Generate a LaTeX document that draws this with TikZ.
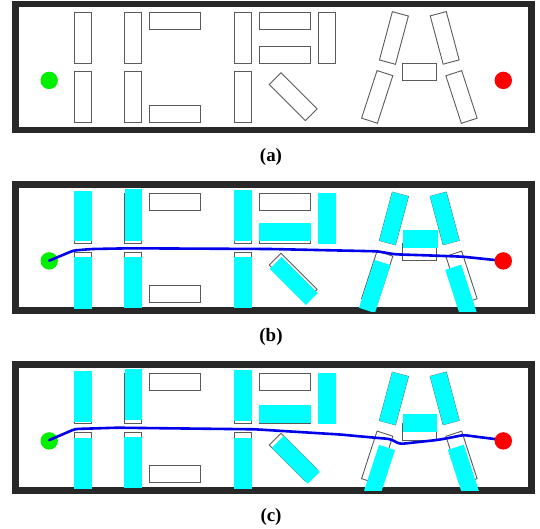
\documentclass[tikz,border=0pt]{standalone}
\usepackage{fontspec}
\setmainfont{Liberation Serif}
\definecolor{framegray}{RGB}{40,40,40}
\definecolor{outlinegray}{RGB}{90,90,90}
\definecolor{obscyan}{RGB}{0,255,255}
\definecolor{startgreen}{RGB}{0,240,0}
\definecolor{goalred}{RGB}{255,0,0}
\definecolor{pathblue}{RGB}{0,0,235}
\tikzset{
  framebox/.style={draw=framegray, line width=6.5bp},
  outlinebox/.style={draw=outlinegray, line width=0.9bp},
  cyanbox/.style={fill=obscyan},
  pathline/.style={draw=pathblue, line width=2.6bp, line join=round, line cap=round, rounded corners=3bp},
  startdot/.style={fill=startgreen},
  goaldot/.style={fill=goalred},
  caption/.style={font=\fontsize{19}{22}\selectfont\bfseries, inner sep=0pt}
}
% #1 style, #2 cx, #3 cy, #4 w, #5 h, #6 angle
\newcommand\obsbox[6]{%
  \path[#1, shift={(#2,#3)}, rotate=#6] (-#4/2,-#5/2) rectangle (#4/2,#5/2);}
\newcommand\alloutlines[1]{%
  \begin{scope}[yshift=-#1bp]
  \foreach \cx/\cy/\w/\h/\a in {82.7/38/17.3/50.6/0, 82.7/97/17.3/50.6/0,
     133.2/38/17/50.6/0, 133.2/97/17/50.6/0, 175.2/21.2/51/17/0, 175.2/113.8/51/17/0,
     242.8/38/17/50.6/0, 242.8/97/17/50.6/0, 284.7/21.2/50.7/17/0, 284.7/54.8/50.7/17/0,
     326.8/38/17/50.6/0, 293.2/96.7/16.5/51/45, 393.9/38/16.6/50/-15,
     444.7/37.9/16.6/50/15, 377.2/96.9/16.6/50/-18, 461.5/97/16.6/50/18,
     419.2/71.7/33.7/16.7/0}
     {\obsbox{outlinebox}{\cx}{\cy}{\w}{\h}{\a}}
  \end{scope}}
\begin{document}
\begin{tikzpicture}[x=1bp,y=-1bp]
\useasboundingbox (0,0) rectangle (540,529);

% ---------- panel (a) ----------
\draw[framebox] (15.65,4.2) rectangle (531.65,130.1);
\alloutlines{0}
\fill[startdot] (49.2,80.4) circle (8.7bp);
\fill[goaldot] (503.3,80.4) circle (8.7bp);
\node[caption] (capa) at (271,156.5) {(a)};

% ---------- panel (b) ----------
\begin{scope}[yshift=-180.5bp]
\draw[framebox] (15.65,4.2) rectangle (531.65,130.1);
\end{scope}
\alloutlines{180.5}
\begin{scope}[yshift=-180.5bp]
\begin{scope}
\clip (13,2) rectangle (534,131.2);
\foreach \cx/\cy/\w/\h/\a in {82.8/35.35/17.6/50.6/0, 82.8/102.8/17.8/52/0,
   133.3/34.5/17.6/52/0, 133.3/101.7/17.8/51/0, 243/35/17.6/51/0, 243/102.3/17.6/51/0,
   284.9/51.5/51.3/17.4/0, 327/37.6/17.4/51/0, 293.8/100.5/16.8/51/45,
   393.9/38/16.8/50.4/-15, 444.7/37.9/16.8/50.4/15, 374.7/105.9/16.8/50.4/-18,
   461/110.7/16.8/50.4/18, 420.3/58.4/34.8/17.3/0}
   {\obsbox{cyanbox}{\cx}{\cy}{\w}{\h}{\a}}
\end{scope}
\fill[startdot] (49.2,80.4) circle (8.7bp);
\coordinate (bs) at (49.2,80.2);
\coordinate (bg) at (503.3,80.4);
\draw[pathline] (bs) -- (73.5,70) -- (92,68.5) -- (130,67.8) -- (270,68.5)
   -- (377,70.8) -- (395,73.8) -- (437,75.2) -- (463,76.2) -- (bg);
\fill[goaldot] (503.3,80.4) circle (8.7bp);
\node[caption] (capb) at (271,156.2) {(b)};
\end{scope}

% ---------- panel (c) ----------
\begin{scope}[yshift=-360.5bp]
\draw[framebox] (15.65,4.2) rectangle (531.65,130.1);
\end{scope}
\alloutlines{360.5}
\begin{scope}[yshift=-360.5bp]
\begin{scope}
\clip (13,2) rectangle (534,130.4);
\foreach \cx/\cy/\w/\h/\a in {82.8/35.7/17.6/51/0, 82.8/103.3/17.8/51/0,
   133.3/34.15/17.6/51.3/0, 133.3/101.7/17.8/51/0, 243/35/17.6/51/0, 243/102.5/17.6/51/0,
   284.9/53.3/51.3/17.6/0, 327/38/17.4/51/0, 295.8/99.3/16.8/51/45,
   393.9/38/16.8/50.4/-15, 444.7/37.9/16.8/50.4/15, 379.2/110.9/16.8/50.4/-18,
   463.6/110.7/16.8/50.4/18, 419.7/62.4/34.2/17.4/0}
   {\obsbox{cyanbox}{\cx}{\cy}{\w}{\h}{\a}}
\end{scope}
\fill[startdot] (49.2,80.4) circle (8.7bp);
\coordinate (cs) at (49.2,79.6);
\coordinate (cg) at (503.3,79.5);
\draw[pathline] (cs) -- (75,68.5) -- (117,67.2) -- (255,68.8) -- (340,74)
   -- (375,77.2) -- (390,78.5) -- (400,83.5) -- (437,79.5) -- (447,77.8)
   -- (463.3,74.5) -- (496.7,78.8) -- (cg);
\fill[goaldot] (503.3,80.4) circle (8.7bp);
\node[caption] (capc) at (271,156.5) {(c)};
\end{scope}
\end{tikzpicture}
\end{document}
